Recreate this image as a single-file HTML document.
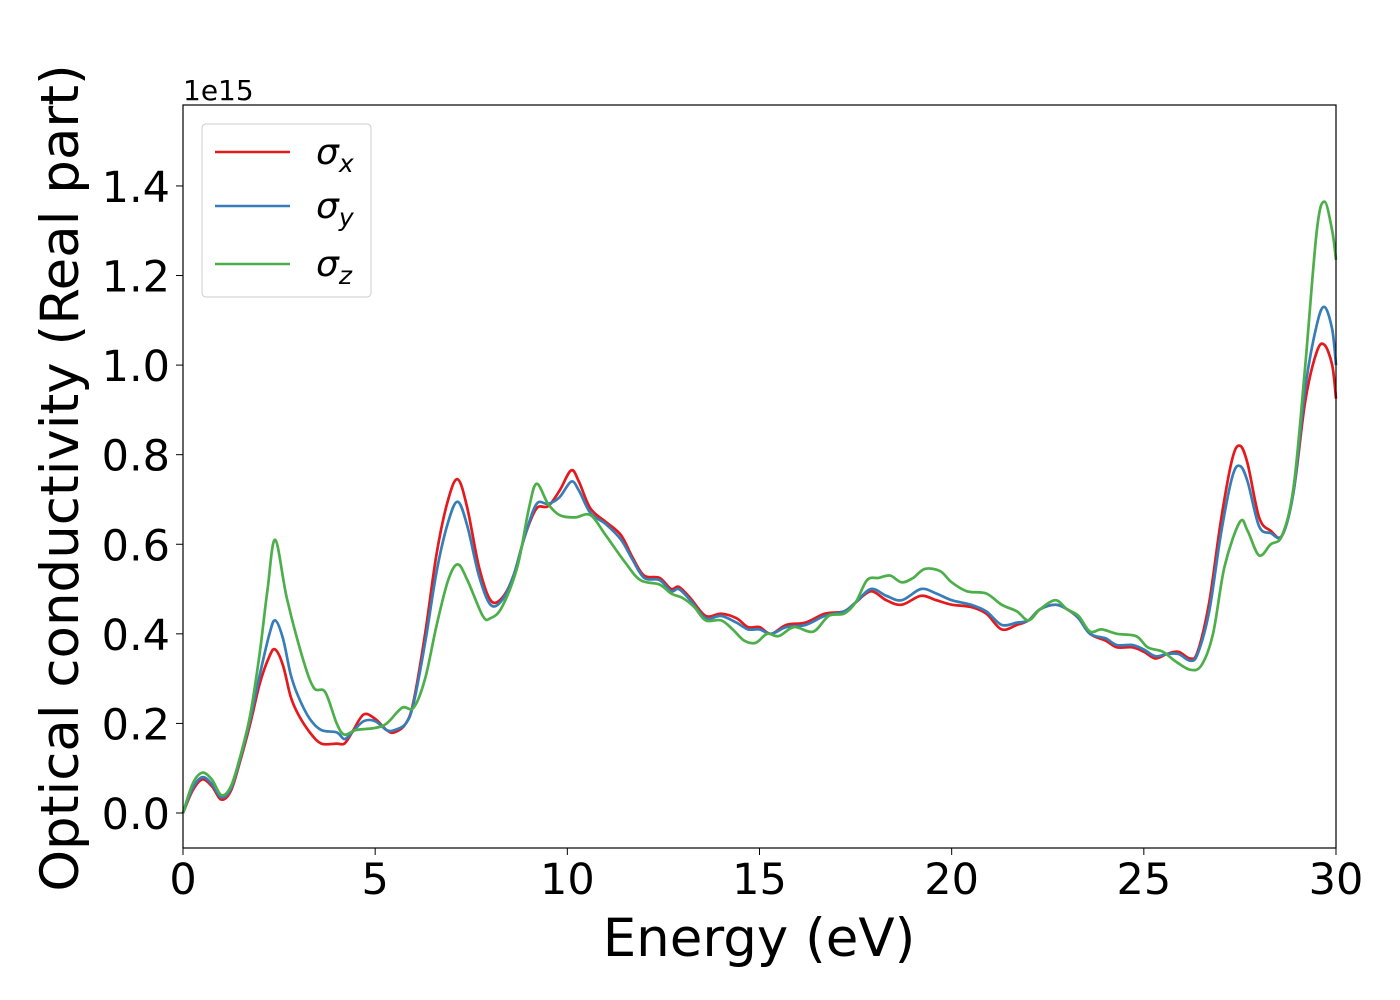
<!DOCTYPE html>
<html><head><meta charset="utf-8"><style>
body{margin:0;background:#fff;}
svg{display:block;font-family:"DejaVu Sans","Liberation Sans",sans-serif;}
</style></head><body>
<svg id="chart" width="1400" height="1000">
<rect x="0" y="0" width="1400" height="1000" fill="#fff"/>
<g id="lines"></g>
<rect x="183" y="105" width="1153" height="743" fill="none" stroke="#000" stroke-width="1.2"/>
<g id="xticks"></g>
<g id="yticks"></g>
<text x="183" y="100" font-size="28">1e15</text>
<text x="759" y="956" font-size="53" text-anchor="middle">Energy (eV)</text>
<text transform="translate(78,478) rotate(-90)" font-size="53" text-anchor="middle">Optical conductivity (Real part)</text>
<g>
<rect x="202" y="124" width="169" height="173" rx="4" fill="#fff" fill-opacity="0.8" stroke="#ccc"/>
<line x1="215" y1="152" x2="290" y2="152" stroke="#e41a1c" stroke-width="2.5"/>
<text x="316" y="164" font-size="36" font-style="italic">σ<tspan font-size="25" dy="8">x</tspan></text>
<line x1="215" y1="206" x2="290" y2="206" stroke="#377eb8" stroke-width="2.5"/>
<text x="316" y="218" font-size="36" font-style="italic">σ<tspan font-size="25" dy="8">y</tspan></text>
<line x1="215" y1="264" x2="290" y2="264" stroke="#4daf4a" stroke-width="2.5"/>
<text x="316" y="276" font-size="36" font-style="italic">σ<tspan font-size="25" dy="8">z</tspan></text>
</g>
</svg>
<script>
const xTickValues=[0,5,10,15,20,25,30];
const yTickValues=[0.0,0.2,0.4,0.6,0.8,1.0,1.2,1.4];
const sxE=[0,0.25,0.5,0.75,1.0,1.25,1.5,1.75,2.0,2.25,2.4,2.6,2.8,3.0,3.3,3.6,4.0,4.2,4.4,4.7,5.0,5.3,5.5,5.8,6.0,6.3,6.6,6.9,7.15,7.4,7.7,8.0,8.3,8.6,8.9,9.2,9.5,9.8,10.1,10.3,10.6,11.0,11.4,11.7,12.0,12.4,12.7,12.9,13.2,13.6,14.0,14.4,14.7,15.0,15.3,15.7,16.2,16.7,17.2,17.5,17.9,18.3,18.7,19.2,19.6,20.0,20.5,20.9,21.3,21.7,22.0,22.3,22.7,23.0,23.3,23.6,24.0,24.3,24.7,25.0,25.3,25.6,25.9,26.2,26.4,26.7,27.0,27.3,27.5,27.7,28.0,28.3,28.6,28.9,29.2,29.5,29.7,29.9,30];
const sxV=[0,0.05,0.075,0.06,0.03,0.05,0.12,0.2,0.29,0.35,0.365,0.33,0.26,0.22,0.18,0.155,0.155,0.155,0.18,0.22,0.21,0.185,0.18,0.2,0.25,0.4,0.58,0.7,0.745,0.68,0.55,0.475,0.48,0.53,0.62,0.68,0.685,0.72,0.765,0.74,0.68,0.65,0.62,0.57,0.53,0.525,0.5,0.505,0.48,0.44,0.445,0.435,0.415,0.415,0.4,0.42,0.425,0.445,0.45,0.47,0.495,0.475,0.465,0.485,0.475,0.465,0.46,0.445,0.41,0.42,0.43,0.455,0.465,0.455,0.435,0.4,0.385,0.37,0.37,0.36,0.345,0.355,0.36,0.345,0.36,0.47,0.65,0.79,0.82,0.78,0.66,0.63,0.62,0.72,0.92,1.03,1.045,1.0,0.925];
const syV=[0,0.055,0.08,0.065,0.035,0.055,0.125,0.21,0.31,0.4,0.43,0.39,0.31,0.26,0.21,0.185,0.18,0.165,0.18,0.205,0.205,0.185,0.185,0.2,0.245,0.38,0.54,0.65,0.695,0.64,0.53,0.465,0.475,0.53,0.62,0.69,0.69,0.705,0.74,0.72,0.67,0.645,0.61,0.565,0.525,0.52,0.495,0.5,0.475,0.435,0.44,0.425,0.41,0.41,0.4,0.415,0.42,0.44,0.45,0.47,0.5,0.485,0.475,0.5,0.49,0.475,0.465,0.45,0.42,0.425,0.43,0.455,0.465,0.455,0.435,0.4,0.39,0.375,0.375,0.365,0.35,0.355,0.355,0.34,0.355,0.45,0.62,0.75,0.775,0.74,0.64,0.625,0.62,0.72,0.95,1.09,1.13,1.08,1.0];
const szE=[0,0.25,0.5,0.75,1.0,1.25,1.5,1.75,2.0,2.2,2.4,2.7,3.1,3.4,3.7,4.0,4.2,4.5,5.0,5.3,5.7,6.0,6.3,6.6,6.9,7.15,7.4,7.8,8.0,8.3,8.7,9.0,9.2,9.5,9.8,10.2,10.6,11.0,11.5,11.9,12.4,12.7,13.0,13.3,13.6,14.0,14.3,14.6,14.9,15.2,15.5,15.9,16.4,16.8,17.2,17.5,17.8,18.1,18.4,18.7,19.0,19.3,19.7,20.0,20.4,20.9,21.3,21.7,22.0,22.3,22.7,23.0,23.3,23.6,23.9,24.3,24.8,25.1,25.5,25.8,26.2,26.5,26.8,27.1,27.5,27.7,28.0,28.3,28.6,28.9,29.2,29.5,29.7,29.9,30];
const szV=[0,0.065,0.09,0.075,0.04,0.06,0.13,0.22,0.36,0.5,0.61,0.48,0.35,0.28,0.27,0.2,0.175,0.185,0.19,0.2,0.235,0.235,0.3,0.42,0.52,0.555,0.52,0.44,0.435,0.46,0.55,0.68,0.735,0.69,0.665,0.66,0.665,0.62,0.56,0.52,0.51,0.49,0.48,0.46,0.43,0.43,0.41,0.385,0.38,0.4,0.395,0.415,0.405,0.44,0.445,0.47,0.52,0.525,0.53,0.515,0.525,0.545,0.54,0.515,0.495,0.49,0.465,0.45,0.43,0.455,0.475,0.455,0.44,0.405,0.41,0.4,0.395,0.37,0.36,0.34,0.32,0.33,0.4,0.55,0.65,0.63,0.575,0.6,0.62,0.73,1.0,1.3,1.365,1.3,1.235];

const X0=183,X1=1336,Y0=813,PY=447.9;
function xs(v){return X0+(X1-X0)*v/30;}
function ys(v){return Y0-PY*v;}
const NS='http://www.w3.org/2000/svg';
function pathFor(E,V){
  const p=E.map((e,i)=>[xs(e),ys(V[i])]);
  let d='M'+p[0][0].toFixed(1)+','+p[0][1].toFixed(1);
  for(let i=0;i<p.length-1;i++){
    const a=p[Math.max(0,i-1)],b=p[i],c=p[i+1],e=p[Math.min(p.length-1,i+2)];
    const c1=[b[0]+(c[0]-a[0])/6,b[1]+(c[1]-a[1])/6];
    const c2=[c[0]-(e[0]-b[0])/6,c[1]-(e[1]-b[1])/6];
    d+=' C'+c1[0].toFixed(1)+','+c1[1].toFixed(1)+' '+c2[0].toFixed(1)+','+c2[1].toFixed(1)+' '+c[0].toFixed(1)+','+c[1].toFixed(1);
  }
  return d;
}
const lines=document.getElementById('lines');
[[sxE,sxV,'#e41a1c','series-sigma-x'],[sxE,syV,'#377eb8','series-sigma-y'],[szE,szV,'#4daf4a','series-sigma-z']].forEach(s=>{
  const el=document.createElementNS(NS,'path');
  el.setAttribute('d',pathFor(s[0],s[1]));
  el.setAttribute('fill','none');el.setAttribute('stroke',s[2]);el.setAttribute('stroke-width','2.7');
  
  
  lines.appendChild(el);
});
const xt=document.getElementById('xticks');
xTickValues.forEach(v=>{
  const l=document.createElementNS(NS,'line');
  l.setAttribute('x1',xs(v));l.setAttribute('x2',xs(v));l.setAttribute('y1',848);l.setAttribute('y2',855);l.setAttribute('stroke','#000');
  
  
  xt.appendChild(l);
  const t=document.createElementNS(NS,'text');
  t.setAttribute('x',xs(v));t.setAttribute('y',894);t.setAttribute('font-size','43');t.setAttribute('text-anchor','middle');
  t.textContent=v;
  
  
  xt.appendChild(t);
});
const yt=document.getElementById('yticks');
yTickValues.forEach(v=>{
  const l=document.createElementNS(NS,'line');
  l.setAttribute('x1',176);l.setAttribute('x2',183);l.setAttribute('y1',ys(v));l.setAttribute('y2',ys(v));l.setAttribute('stroke','#000');
  
  
  yt.appendChild(l);
  const t=document.createElementNS(NS,'text');
  t.setAttribute('x',170);t.setAttribute('y',ys(v)+16);t.setAttribute('font-size','43');t.setAttribute('text-anchor','end');
  t.textContent=v.toFixed(1);
  
  
  yt.appendChild(t);
});
</script>
</body></html>
